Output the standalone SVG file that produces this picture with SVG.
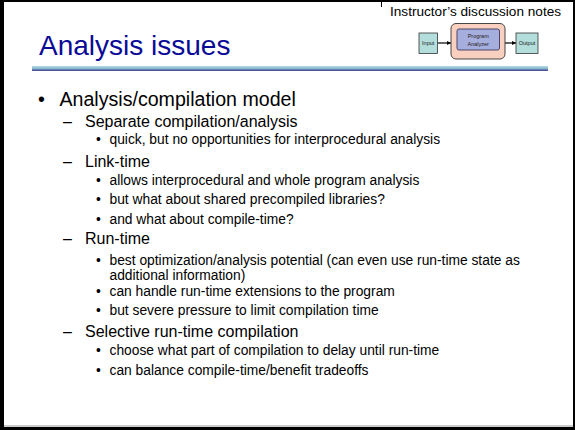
<svg xmlns="http://www.w3.org/2000/svg" width="575" height="430" viewBox="0 0 575 430">
<style>
text{font-family:"Liberation Sans",Arial,sans-serif;fill:#000}
.title{font-size:28px;fill:#0a0a96}
.l1{font-size:19.6px}
.l2{font-size:16px}
.l3{font-size:13.8px}
.note{font-size:13.6px}
.tiny{font-size:5.5px;fill:#222}
.box{fill:#b4dedb;stroke:#333;stroke-width:0.8}
.conn{stroke:#000;stroke-width:1.2;fill:none;marker-end:url(#ah)}
</style>
<defs>
<linearGradient id="hl" x1="0" y1="0" x2="0" y2="1">
<stop offset="0" stop-color="#b3e0ea"/>
<stop offset="0.5" stop-color="#8ab4cc"/>
<stop offset="1" stop-color="#3a3a8e"/>
</linearGradient>
<marker id="ah" viewBox="0 0 10 10" refX="10" refY="5" markerWidth="4" markerHeight="4" orient="auto" markerUnits="userSpaceOnUse">
<path d="M0,0 L10,5 L0,10 z" fill="#000"/>
</marker>
</defs>
<rect x="0" y="0" width="575" height="430" fill="#000"/>
<rect x="4" y="2" width="569" height="425" fill="#fff"/>
<line x1="4" y1="426" x2="573" y2="426" stroke="#999" stroke-width="1"/>
<line x1="381.5" y1="2" x2="381.5" y2="7" stroke="#000" stroke-width="1"/>

<text class="note" x="390" y="16">Instructor’s discussion notes</text>
<text class="title" x="39" y="55">Analysis issues</text>
<rect x="32" y="66" width="516" height="5" fill="url(#hl)"/>

<g id="connectors">
<line class="conn" x1="438" y1="43" x2="451" y2="43"/>
<line class="conn" x1="499.5" y1="43" x2="516" y2="43"/>
</g>
<g id="input">
<rect class="box" x="419" y="33" width="18.5" height="20.5"/>
<text class="tiny" x="428.2" y="45" text-anchor="middle">Input</text>
</g>
<g id="analyzer">
<rect x="451" y="23.5" width="54" height="35.5" rx="5" fill="#f9cfc0" stroke="#333" stroke-width="0.9"/>
<rect x="457" y="29" width="42.5" height="21" rx="2" fill="#a6aede" stroke="#3a3a60" stroke-width="0.9"/>
<text class="tiny" x="478.2" y="38" text-anchor="middle">Program</text>
<text class="tiny" x="478.2" y="46" text-anchor="middle">Analyzer</text>
</g>
<g id="output">
<rect class="box" x="516" y="33" width="22" height="20.5"/>
<text class="tiny" x="527" y="45" text-anchor="middle">Output</text>
</g>

<g id="bullets">
<text class="l1" x="38" y="106">•</text>
<text class="l1" x="59.5" y="106">Analysis/compilation model</text>

<text class="l2" x="63" y="127">–</text>
<text class="l2" x="85" y="127">Separate compilation/analysis</text>
<text class="l3" x="96" y="144">•</text>
<text class="l3" x="109.5" y="144">quick, but no opportunities for interprocedural analysis</text>

<text class="l2" x="63" y="167">–</text>
<text class="l2" x="85" y="167">Link-time</text>
<text class="l3" x="96" y="185">•</text>
<text class="l3" x="109.5" y="185">allows interprocedural and whole program analysis</text>
<text class="l3" x="96" y="204">•</text>
<text class="l3" x="109.5" y="204">but what about shared precompiled libraries?</text>
<text class="l3" x="96" y="223.5">•</text>
<text class="l3" x="109.5" y="223.5">and what about compile-time?</text>

<text class="l2" x="63" y="243.5">–</text>
<text class="l2" x="85" y="243.5">Run-time</text>
<text class="l3" x="96" y="264.5">•</text>
<text class="l3" x="109.5" y="264.5">best optimization/analysis potential (can even use run-time state as</text>
<text class="l3" x="109.5" y="279.5">additional information)</text>
<text class="l3" x="96" y="296">•</text>
<text class="l3" x="109.5" y="296">can handle run-time extensions to the program</text>
<text class="l3" x="96" y="314.5">•</text>
<text class="l3" x="109.5" y="314.5">but severe pressure to limit compilation time</text>

<text class="l2" x="63" y="337">–</text>
<text class="l2" x="85" y="337">Selective run-time compilation</text>
<text class="l3" x="96" y="355">•</text>
<text class="l3" x="109.5" y="355">choose what part of compilation to delay until run-time</text>
<text class="l3" x="96" y="375">•</text>
<text class="l3" x="109.5" y="375">can balance compile-time/benefit tradeoffs</text>
</g>
</svg>
